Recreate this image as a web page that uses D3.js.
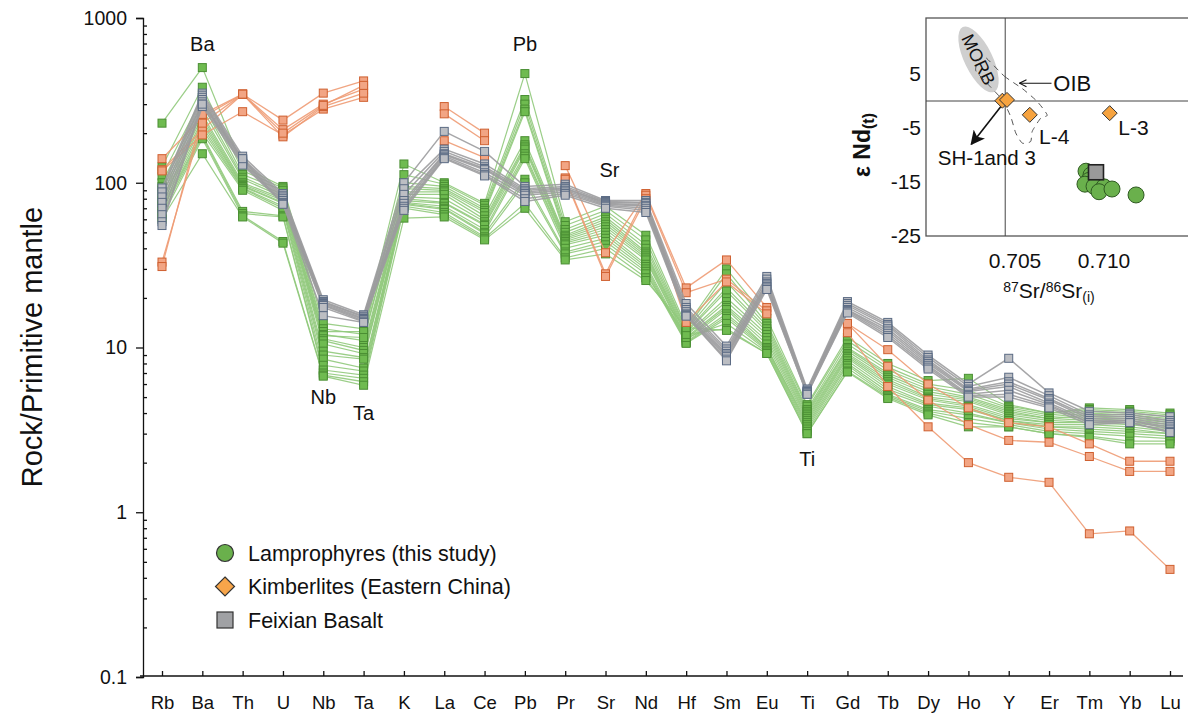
<!DOCTYPE html>
<html>
<head>
<meta charset="utf-8">
<script src="https://cdn.jsdelivr.net/npm/d3@7/dist/d3.min.js"></script>
<style>
  body { margin: 0; background: #fff; }
  svg text { font-family: Arial, "Liberation Sans", sans-serif; fill: #111; }
</style>
</head>
<body>
<svg id="chart" width="1188" height="717"></svg>
<script>
// element order of the spider diagram
const elements = ["Rb","Ba","Th","U","Nb","Ta","K","La","Ce","Pb","Pr","Sr","Nd","Hf","Sm","Eu","Ti","Gd","Tb","Dy","Ho","Y","Er","Tm","Yb","Lu"];
const yTicks = [0.1, 1, 10, 100, 1000];

// lamprophyres (this study), normalised to primitive mantle
const lamprophyres = [
  [230,500,125,95,14,13,130,100,75,460,58,72,48,13.5,30,15,4.5,11.5,8,6.3,6.5,4.5,4,4.3,4.2,4.0],
  [125,380,118,93,13,12,112,98,73,320,55,68,45,13,28,14,4.4,11,7.6,6,5.5,4.4,4,4.2,4.1,3.9],
  [110,330,112,90,12.5,12.5,100,95,70,300,52,65,42,12.8,25,13.5,4.2,10.5,7.3,5.8,5.2,4.3,3.9,4.1,4.0,3.8],
  [100,300,108,85,12,11,95,92,68,280,50,62,40,12.5,23,13,4.1,10,7,5.6,5.0,4.2,3.8,4.0,3.9,3.7],
  [95,280,105,82,11.8,11.5,92,90,66,270,48,60,38,12.3,22,12.5,4.0,9.8,6.8,5.4,4.9,4.1,3.7,3.9,3.8,3.6],
  [90,260,100,80,11.3,10,88,88,63,180,47,58,37,12,20,12,3.9,9.5,6.6,5.2,4.8,4.0,3.7,3.8,3.7,3.5],
  [85,250,98,78,11,9.6,85,85,60,170,46,56,36,11.8,19,11.5,3.8,9.2,6.4,5.0,4.7,3.9,3.6,3.7,3.6,3.4],
  [80,240,96,76,10.5,9.2,82,80,58,165,45,54,35,11.5,18,11,3.7,9,6.2,4.9,4.5,3.8,3.5,3.6,3.5,3.3],
  [78,230,95,75,9.5,8.7,80,76,56,160,44,52,34,11.3,17.5,10.5,3.6,8.8,6,4.8,4.4,3.7,3.5,3.5,3.4,3.2],
  [75,220,93,72,9.0,8.5,78,75,55,150,43,50,32,11,17,10,3.5,8.6,5.8,4.6,4.3,3.6,3.4,3.4,3.3,3.1],
  [72,210,92,70,8.5,7.5,76,72,52,145,42,48,31,10.8,16,10,3.4,8.3,5.6,4.5,4.2,3.6,3.3,3.3,3.2,3.0],
  [70,200,90,68,7.8,7.2,75,70,50,140,40,46,30,10.7,15.5,9.8,3.3,8,5.4,4.4,4.0,3.5,3.3,3.2,3.1,3.0],
  [68,195,67,63,7.3,6.8,74,69,49,105,38,44,29,10.6,15,9.6,3.2,7.8,5.2,4.2,3.9,3.5,3.2,3.1,3.0,2.9],
  [65,190,65,62,7.0,6.5,72,66,47,100,37,42,28,11.5,14,9.4,3.1,7.5,5.1,4.1,3.7,3.4,3.1,3.0,2.9,2.8],
  [62,185,63,44,6.8,6.2,70,64,46,75,35,40,26.5,12,13,9.2,3.0,7.2,5.0,4.0,3.5,3.3,3.0,2.9,2.7,2.7],
  [60,150,62,43,6.7,5.9,61,62,45,70,34,37,25.5,13.2,12.7,9.2,3.0,7.1,4.9,3.9,3.3,3.3,3.0,2.85,2.6,2.6]
];

// kimberlites (Eastern China), gaps where not analysed
const kimberlites = [
  [140,250,345,240,350,415,null,290,200,null,127,37.6,86,23,34,17.5,null,14,9.7,6,4.3,3.5,3.3,2.6,2.04,2.04],
  [120,210,345,210,300,370,null,262,180,null,107,28,84,21.5,26,16.7,null,14,7.7,4.8,3.4,2.73,2.66,2.18,1.77,1.77],
  [118,195,270,195,280,330,null,180,142,null,105,27,80,14.2,25,16,null,12.3,5.8,3.3,2.0,1.63,1.52,0.74,0.77,0.45],
  [33,230,345,190,290,350,null,null,null,null,null,null,null,null,null,null,null,null,null,null,null,null,null,null,null,null],
  [31,260,345,200,295,390,null,null,null,null,null,null,null,null,null,null,null,null,null,null,null,null,null,null,null,null]
];

// Feixian basalt
const feixian = [
  [93,350,145,86,19.5,15.8,100,205,155,95,98,78,78,18.5,10.2,27,5.6,19,14.2,9,6,8.6,5.3,4.1,4,3.8],
  [88,340,140,84,19,15.5,92,160,130,92,95,77,76,17.5,9.8,26,5.5,18.5,13.8,8.7,5.8,6.6,5.1,3.9,3.9,3.6],
  [82,330,138,82,18.8,15.3,85,155,125,90,93,76,75,17,9.5,25,5.4,18,13.5,8.4,5.6,6.2,4.9,3.8,3.8,3.5],
  [76,320,135,80,18.5,15,78,150,122,88,92,75,73,16.5,9.2,24.5,5.4,17.5,13,8.2,5.5,6.0,4.8,3.7,3.7,3.4],
  [70,310,132,78,18.2,14.8,75,148,120,86,90,74,72,16,9,24,5.3,17,12.6,8,5.4,5.8,4.6,3.6,3.6,3.3],
  [64,300,130,76,18,14.5,72,145,115,84,88,73,70,15.8,8.8,23.5,5.3,16.8,12.2,7.8,5.2,5.5,4.5,3.5,3.6,3.2],
  [58,290,128,75,17.5,14.3,70,142,112,80,86,72,68,15.6,8.5,23,5.2,16.5,11.8,7.6,5.1,5.2,4.4,3.5,3.5,3.1],
  [55,300,140,74,15.6,14.2,68,140,110,77,84,70,66,15.5,8.3,22.5,5.2,16.2,11.5,7.4,5,5,4.3,3.4,3.5,3.05]
];

// element labels placed on the diagram
const peakLabels = ["Ba","Pb","Sr","Nb","Ta","Ti"];

// inset: 87Sr/86Sr(i) vs eNd(t)
const insetLamprophyres = [
  [0.70899,-13.0],[0.70927,-13.7],[0.70916,-14.7],[0.70893,-15.4],[0.70944,-15.8],
  [0.71000,-15.9],[0.70972,-16.8],[0.71045,-16.3],[0.71180,-17.4]
];
const insetKimberlites = [
  ["SH-1",0.70429,0.05],["SH-3",0.70455,0.2],["L-4",0.70583,-2.56],["L-3",0.71032,-2.25]
];
const insetFeixian = [[0.70955,-13.2]];
const insetXTicks = [0.705, 0.710];
const insetYTicks = [5, -5, -15, -25];
const bulkEarthSr = 0.70445;
const oibOutline = [
  [0.70330,8.2],[0.70440,4.6],[0.70541,2.3],[0.70625,-0.1],[0.70681,-2.6],[0.70644,-3.2],
  [0.70597,-5.6],[0.70588,-7.5],[0.70541,-7.8],[0.70504,-5.9],[0.70476,-2.9],[0.70429,0.2],
  [0.70354,2.9],[0.70280,5.6],[0.70295,7.6]
];
const morbCentre = [0.70295, 7.7];

const svg = d3.select("#chart");

const x = d3.scalePoint().domain(elements).range([162, 1170]);
const y = d3.scaleLog().domain([0.1, 1000]).range([677, 18]);

// axes
const yAxis = d3.axisLeft(y).tickValues(yTicks).tickSize(7).tickPadding(9)
  .tickFormat(d => d >= 1 ? d3.format("d")(d) : String(d));
const gy = svg.append("g").attr("transform", "translate(143,0)").call(yAxis);
gy.selectAll("text").attr("font-size", 19.5).attr("font-family", "Arial, 'Liberation Sans', sans-serif");

const minor = [];
for (let p = -1; p < 3; p++) for (let m = 2; m <= 9; m++) minor.push(m * Math.pow(10, p));
const gyMinor = svg.append("g").attr("transform", "translate(143,0)")
  .call(d3.axisRight(y).tickValues(minor).tickSize(4).tickFormat(""));
gyMinor.select(".domain").remove();

const gx = svg.append("g").attr("transform", "translate(0,676)")
  .call(d3.axisBottom(x).tickSize(-5).tickPadding(20));
gx.select(".domain").attr("d", "M140,0H1183");
gx.selectAll("text").attr("font-size", 18.5).attr("font-family", "Arial, 'Liberation Sans', sans-serif");

svg.selectAll(".domain, .tick line").attr("stroke", "#111").attr("stroke-width", 1.3);

svg.append("text")
  .attr("transform", "translate(42,347) rotate(-90)")
  .attr("text-anchor", "middle")
  .attr("font-family", "'Open Sans', sans-serif")
  .attr("font-size", 29)
  .text("Rock/Primitive mantle");

// spider lines
const line = d3.line()
  .defined(d => d != null)
  .x((d, i) => x(elements[i]))
  .y(d => y(d));

function drawGroup(data, lineColor, lineWidth, fill, stroke) {
  const g = svg.append("g");
  g.selectAll("path").data(data).join("path")
    .attr("d", line)
    .attr("fill", "none")
    .attr("stroke", lineColor)
    .attr("stroke-width", lineWidth)
    .attr("stroke-opacity", 0.9);
  const pts = data.flatMap(row => row.map((v, i) => ({ el: elements[i], v })).filter(p => p.v != null));
  g.selectAll("rect").data(pts).join("rect")
    .attr("x", d => x(d.el) - 4)
    .attr("y", d => y(d.v) - 4)
    .attr("width", 8)
    .attr("height", 8)
    .attr("fill", fill)
    .attr("stroke", stroke)
    .attr("stroke-width", 1);
}

drawGroup(lamprophyres, "#90c97b", 1.2, "#6fbb50", "#4a8e33");
drawGroup(kimberlites, "#ee9b74", 1.3, "#f2a584", "#cf6030");
drawGroup(feixian, "#9c9c9e", 1.5, "#bcbec3", "#5b6b84");

// element annotations
const labelY = { Ba: 44, Pb: 44, Sr: 170, Nb: 397, Ta: 413, Ti: 459 };
svg.append("g").selectAll("text").data(peakLabels).join("text")
  .attr("x", d => x(d) + (d === "Sr" ? 4 : 0))
  .attr("y", d => labelY[d])
  .attr("dy", "0.35em")
  .attr("text-anchor", "middle")
  .attr("font-size", 20)
  .text(d => d);

// legend
const legendItems = [
  { label: "Lamprophyres (this study)", shape: "circle", fill: "#6ab04c" },
  { label: "Kimberlites (Eastern China)", shape: "diamond", fill: "#f7a54a" },
  { label: "Feixian Basalt", shape: "square", fill: "#a0a1a4" }
];
const legend = svg.append("g").attr("transform", "translate(225,553)");
legendItems.forEach((item, i) => {
  const gi = legend.append("g").attr("transform", `translate(0,${i * 33.5})`);
  if (item.shape === "circle") {
    gi.append("circle").attr("r", 8.5);
  } else if (item.shape === "diamond") {
    gi.append("path").attr("d", "M0,-9.5L9.5,0L0,9.5L-9.5,0Z");
  } else {
    gi.append("rect").attr("x", -8).attr("y", -8).attr("width", 16).attr("height", 16);
  }
  gi.selectChildren().attr("fill", item.fill).attr("stroke", "#333").attr("stroke-width", 1.2);
  gi.append("text").attr("x", 23).attr("dy", "0.35em").attr("font-size", 21.5).text(item.label);
});

// ---------- inset ----------
const xI = d3.scaleLinear().domain([0.700, 0.715]).range([926, 1193]);
const yI = d3.scaleLinear().domain([-25, 15]).range([236, 20]);
const inset = svg.append("g");
const topI = yI(15.37);

inset.append("rect")
  .attr("x", xI(0.700)).attr("y", topI)
  .attr("width", xI(0.715) - xI(0.700) + 5).attr("height", yI(-25) - topI)
  .attr("fill", "#fff").attr("stroke", "#555").attr("stroke-width", 1.3);

inset.append("line")
  .attr("x1", xI(bulkEarthSr)).attr("x2", xI(bulkEarthSr))
  .attr("y1", topI).attr("y2", yI(-25))
  .attr("stroke", "#444").attr("stroke-width", 1);
inset.append("line")
  .attr("x1", xI(0.700)).attr("x2", 1188)
  .attr("y1", yI(0)).attr("y2", yI(0))
  .attr("stroke", "#444").attr("stroke-width", 1);

// MORB field
const morb = inset.append("g")
  .attr("transform", `translate(${xI(morbCentre[0])},${yI(morbCentre[1])}) rotate(64)`);
morb.append("ellipse").attr("rx", 36).attr("ry", 14).attr("fill", "#cfcfcf");
morb.append("text").attr("text-anchor", "middle").attr("dy", "0.35em")
  .attr("font-size", 18).attr("fill", "#333").text("MORB");

// OIB field (dashed)
inset.append("path")
  .datum(oibOutline)
  .attr("d", d3.line().x(d => xI(d[0])).y(d => yI(d[1])).curve(d3.curveCardinalClosed.tension(0.4)))
  .attr("fill", "none").attr("stroke", "#444").attr("stroke-width", 0.9)
  .attr("stroke-dasharray", "6,5");

// arrows
const defs = svg.append("defs");
defs.append("marker").attr("id", "arrowFill").attr("viewBox", "0 0 10 10")
  .attr("refX", 9).attr("refY", 5).attr("markerWidth", 9).attr("markerHeight", 9)
  .attr("orient", "auto")
  .append("path").attr("d", "M0,0L10,5L0,10L2.5,5Z").attr("fill", "#111");
defs.append("marker").attr("id", "arrowOpen").attr("viewBox", "0 0 10 10")
  .attr("refX", 9).attr("refY", 5).attr("markerWidth", 8).attr("markerHeight", 8)
  .attr("orient", "auto")
  .append("path").attr("d", "M1,1L9,5L1,9").attr("fill", "none").attr("stroke", "#111").attr("stroke-width", 1.2);

inset.append("line")
  .attr("x1", xI(0.70705)).attr("y1", yI(3.3))
  .attr("x2", xI(0.70525)).attr("y2", yI(3.3))
  .attr("stroke", "#111").attr("stroke-width", 1.1)
  .attr("marker-end", "url(#arrowOpen)");
inset.append("text").attr("x", xI(0.70715)).attr("y", yI(3.3)).attr("dy", "0.35em")
  .attr("font-size", 22).text("OIB");

inset.append("line")
  .attr("x1", xI(0.70435)).attr("y1", yI(-0.4))
  .attr("x2", xI(0.70255)).attr("y2", yI(-8.0))
  .attr("stroke", "#111").attr("stroke-width", 1.6)
  .attr("marker-end", "url(#arrowFill)");
inset.append("text").attr("x", xI(0.70342)).attr("y", yI(-10.5)).attr("dy", "0.35em")
  .attr("text-anchor", "middle").attr("font-size", 20.5).text("SH-1and 3");

// data points
inset.append("g").selectAll("circle").data(insetLamprophyres).join("circle")
  .attr("cx", d => xI(d[0])).attr("cy", d => yI(d[1])).attr("r", 8)
  .attr("fill", "#6ab04c").attr("stroke", "#2f5a22").attr("stroke-width", 1);
inset.append("g").selectAll("rect").data(insetFeixian).join("rect")
  .attr("x", d => xI(d[0]) - 7.5).attr("y", d => yI(d[1]) - 7.5)
  .attr("width", 15).attr("height", 15)
  .attr("fill", "#9a9a9a").attr("stroke", "#222").attr("stroke-width", 1.6);
inset.append("g").selectAll("path").data(insetKimberlites).join("path")
  .attr("transform", d => `translate(${xI(d[1])},${yI(d[2])})`)
  .attr("d", "M0,-7.5L7.5,0L0,7.5L-7.5,0Z")
  .attr("fill", "#f6a33f").attr("stroke", "#333").attr("stroke-width", 1);

inset.append("text").attr("x", xI(0.70635)).attr("y", yI(-6.6)).attr("dy", "0.35em")
  .attr("font-size", 21).text("L-4");
inset.append("text").attr("x", xI(0.71080)).attr("y", yI(-5.0)).attr("dy", "0.35em")
  .attr("font-size", 21).text("L-3");

// inset tick labels
inset.append("g").selectAll("text").data(insetYTicks).join("text")
  .attr("x", 921).attr("y", d => yI(d)).attr("dy", "0.35em")
  .attr("text-anchor", "end").attr("font-size", 21).text(d => d);
inset.append("g").selectAll("text").data(insetXTicks).join("text")
  .attr("x", d => xI(d)).attr("y", 261).attr("dy", "0.35em")
  .attr("text-anchor", "middle").attr("font-size", 21).text(d => d3.format(".3f")(d));

// inset axis titles
const xt = inset.append("text").attr("x", 1049).attr("y", 298)
  .attr("text-anchor", "middle").attr("font-size", 21);
xt.append("tspan").attr("font-size", 14).attr("baseline-shift", "40%").text("87");
xt.append("tspan").text("Sr/");
xt.append("tspan").attr("font-size", 14).attr("baseline-shift", "40%").text("86");
xt.append("tspan").text("Sr");
xt.append("tspan").attr("font-size", 14).attr("baseline-shift", "-25%").text("(i)");

const yt = inset.append("text").attr("transform", "translate(870,145) rotate(-90)")
  .attr("text-anchor", "middle").attr("font-size", 23).attr("font-weight", "bold");
yt.append("tspan").text("ε Nd");
yt.append("tspan").attr("font-size", 16).attr("baseline-shift", "-25%").text("(t)");
</script>
</body>
</html>
